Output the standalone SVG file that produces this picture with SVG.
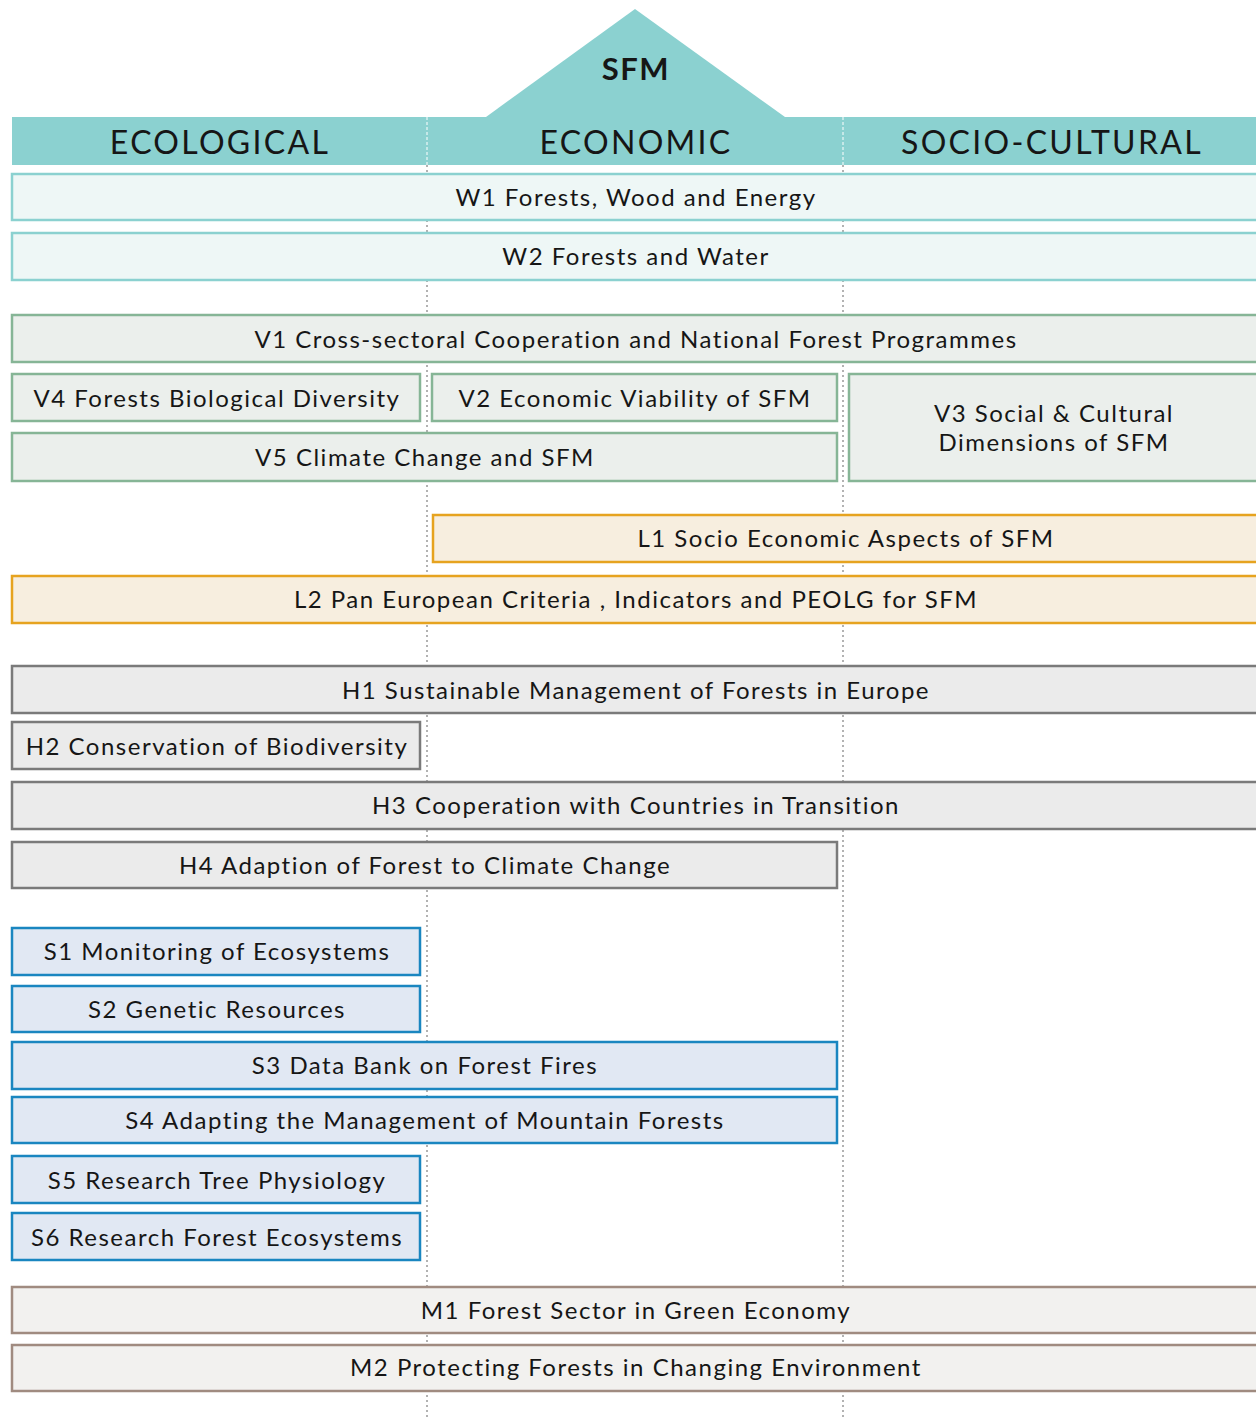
<svg xmlns="http://www.w3.org/2000/svg" width="1256" height="1420" viewBox="0 0 1256 1420">
<style>
text{font-family:Lato,"Noto Sans","Liberation Sans",sans-serif;fill:#161616;text-anchor:middle;}
.lbl{font-size:24px;letter-spacing:1.5px;}
.hdr{font-size:32px;letter-spacing:2.3px;}
.sfm{font-size:31px;font-weight:bold;letter-spacing:1.5px;}
.w rect{fill:#eef7f6;stroke:#8bd1d0;stroke-width:2.5;}
.v rect{fill:#ebefec;stroke:#86b596;stroke-width:2.5;}
.l rect{fill:#f7eedf;stroke:#e6a31f;stroke-width:2.5;}
.h rect{fill:#ebebeb;stroke:#7a7a7a;stroke-width:2.5;}
.s rect{fill:#e1e8f3;stroke:#1a86c0;stroke-width:2.5;}
.m rect{fill:#f2f1ef;stroke:#a08b80;stroke-width:2.5;}
.grid{stroke:#999;stroke-width:1.5;stroke-dasharray:2 3;fill:none;}
.gridw{stroke:#fff;stroke-width:1;stroke-dasharray:3 2;fill:none;}
</style>
<rect width="1256" height="1420" fill="#fff"/>
<g id="grid-lines">
<line class="grid" x1="427" y1="165" x2="427" y2="1420"/>
<line class="grid" x1="843" y1="165" x2="843" y2="1420"/>
</g>
<g id="header">
<polygon points="635,9 486,117 785,117" fill="#8bd1d0"/>
<rect x="12" y="117" width="1246" height="48" fill="#8bd1d0"/>
<line class="gridw" x1="427" y1="117" x2="427" y2="165"/>
<line class="gridw" x1="843" y1="117" x2="843" y2="165"/>
<text class="sfm" x="636" y="80">SFM</text>
<text class="hdr" x="220" y="154">ECOLOGICAL</text>
<text class="hdr" x="636" y="154">ECONOMIC</text>
<text class="hdr" x="1052" y="154">SOCIO-CULTURAL</text>
</g>
<g id="connectors"></g>
<g id="W1" class="w"><rect x="12" y="174" width="1250" height="46"/><text class="lbl" x="636" y="206">W1 Forests, Wood and Energy</text></g>
<g id="W2" class="w"><rect x="12" y="233" width="1250" height="47"/><text class="lbl" x="636" y="265">W2 Forests and Water</text></g>
<g id="V1" class="v"><rect x="12" y="315" width="1250" height="47"/><text class="lbl" x="636" y="348">V1 Cross-sectoral Cooperation and National Forest Programmes</text></g>
<g id="V4" class="v"><rect x="12" y="374" width="408" height="47"/><text class="lbl" x="217" y="407">V4 Forests Biological Diversity</text></g>
<g id="V2" class="v"><rect x="432" y="374" width="405" height="47"/><text class="lbl" x="635" y="407">V2 Economic Viability of SFM</text></g>
<g id="V5" class="v"><rect x="12" y="433" width="825" height="48"/><text class="lbl" x="425" y="466">V5 Climate Change and SFM</text></g>
<g id="V3" class="v"><rect x="849" y="374" width="413" height="107"/><text class="lbl" x="1054" y="422">V3 Social &amp; Cultural</text><text class="lbl" x="1054" y="451">Dimensions of SFM</text></g>
<g id="L1" class="l"><rect x="433" y="515" width="829" height="47"/><text class="lbl" x="846" y="547">L1 Socio Economic Aspects of SFM</text></g>
<g id="L2" class="l"><rect x="12" y="576" width="1250" height="47"/><text class="lbl" x="636" y="608">L2 Pan European Criteria , Indicators and PEOLG for SFM</text></g>
<g id="H1" class="h"><rect x="12" y="666" width="1250" height="47"/><text class="lbl" x="636" y="699">H1 Sustainable Management of Forests in Europe</text></g>
<g id="H2" class="h"><rect x="12" y="722" width="408" height="47"/><text class="lbl" x="217" y="755">H2 Conservation of Biodiversity</text></g>
<g id="H3" class="h"><rect x="12" y="782" width="1250" height="47"/><text class="lbl" x="636" y="814">H3 Cooperation with Countries in Transition</text></g>
<g id="H4" class="h"><rect x="12" y="842" width="825" height="46"/><text class="lbl" x="425" y="874">H4 Adaption of Forest to Climate Change</text></g>
<g id="S1" class="s"><rect x="12" y="928" width="408" height="47"/><text class="lbl" x="217" y="960">S1 Monitoring of Ecosystems</text></g>
<g id="S2" class="s"><rect x="12" y="986" width="408" height="46"/><text class="lbl" x="217" y="1018">S2 Genetic Resources</text></g>
<g id="S3" class="s"><rect x="12" y="1042" width="825" height="47"/><text class="lbl" x="425" y="1074">S3 Data Bank on Forest Fires</text></g>
<g id="S4" class="s"><rect x="12" y="1097" width="825" height="46"/><text class="lbl" x="425" y="1129">S4 Adapting the Management of Mountain Forests</text></g>
<g id="S5" class="s"><rect x="12" y="1156" width="408" height="47"/><text class="lbl" x="217" y="1189">S5 Research Tree Physiology</text></g>
<g id="S6" class="s"><rect x="12" y="1213" width="408" height="47"/><text class="lbl" x="217" y="1246">S6 Research Forest Ecosystems</text></g>
<g id="M1" class="m"><rect x="12" y="1287" width="1250" height="46"/><text class="lbl" x="636" y="1319">M1 Forest Sector in Green Economy</text></g>
<g id="M2" class="m"><rect x="12" y="1345" width="1250" height="46"/><text class="lbl" x="636" y="1376">M2 Protecting Forests in Changing Environment</text></g>
</svg>
